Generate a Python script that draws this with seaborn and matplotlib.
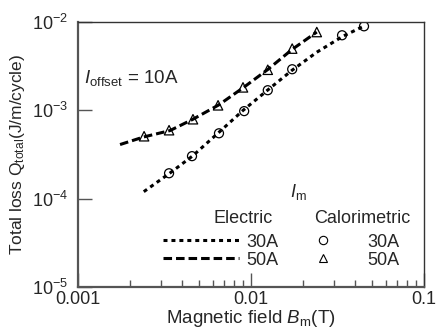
import matplotlib
matplotlib.use("Agg")
import matplotlib.pyplot as plt
import seaborn as sns
import numpy as np
from matplotlib.lines import Line2D
from matplotlib.ticker import LogLocator, NullLocator, NullFormatter, FuncFormatter

# Calorimetric measurements (markers)
b_cal_30 = [0.00336, 0.00456, 0.00653, 0.00913, 0.0125, 0.0173, 0.0336, 0.0450]
q_cal_30 = [1.94e-4, 3.03e-4, 5.5e-4, 9.8e-4, 1.69e-3, 2.92e-3, 7.08e-3, 8.94e-3]
b_cal_50 = [0.00241, 0.00336, 0.00462, 0.00645, 0.00899, 0.0125, 0.0173, 0.0240]
q_cal_50 = [5.09e-4, 5.96e-4, 7.93e-4, 1.14e-3, 1.82e-3, 2.88e-3, 5.0e-3, 7.7e-3]

# Electric measurements (lines)
b_el_30 = [0.0024, 0.0034, 0.0046, 0.0065, 0.009, 0.0125, 0.0173, 0.024, 0.034, 0.045]
q_el_30 = [1.2e-4, 1.95e-4, 3.05e-4, 5.6e-4, 1.0e-3, 1.7e-3, 2.85e-3, 4.55e-3, 6.9e-3, 9.0e-3]
b_el_50 = [0.00175, 0.0024, 0.0034, 0.0046, 0.0065, 0.009, 0.0125, 0.0173, 0.024]
q_el_50 = [4.1e-4, 5.0e-4, 5.9e-4, 7.9e-4, 1.15e-3, 1.8e-3, 2.9e-3, 4.9e-3, 7.7e-3]

x_ticks = [0.001, 0.01, 0.1]
x_tick_labels = ['0.001', '0.01', '0.1']
current_labels = ['30A', '50A']

sns.set_style('white')
plt.rcParams['font.family'] = ['Liberation Sans', 'DejaVu Sans']
plt.rcParams['mathtext.fontset'] = 'custom'
plt.rcParams['mathtext.rm'] = 'Liberation Sans'
plt.rcParams['mathtext.it'] = 'Liberation Sans:italic'
plt.rcParams['mathtext.default'] = 'regular'

FS = 13          # legend / annotation text
FS_TICK = 13
style_30 = (0, (1.3, 1.3))
style_50 = (0, (2.8, 1.3))

fig = plt.figure(figsize=(4.36, 3.32), dpi=100)
ax = fig.add_axes([0.1789, 0.1355, 0.7936, 0.7982])

sns.lineplot(x=b_el_30, y=q_el_30, ax=ax, color='k', lw=2.2, linestyle=style_30, sort=False)
sns.lineplot(x=b_el_50, y=q_el_50, ax=ax, color='k', lw=2.2, linestyle=style_50, sort=False)
sns.scatterplot(x=b_cal_30, y=q_cal_30, ax=ax, marker='o', s=42, facecolor='none',
                edgecolor='k', linewidth=0.9, zorder=1)
sns.scatterplot(x=b_cal_50, y=q_cal_50, ax=ax, marker='^', s=46, facecolor='none',
                edgecolor='k', linewidth=0.9, zorder=1)

ax.set_xscale('log')
ax.set_yscale('log')
ax.set_xlim(0.001, 0.1)
ax.set_ylim(1e-5, 1e-2)
ax.set_xticks(x_ticks)
ax.xaxis.set_major_formatter(FuncFormatter(lambda v, p: x_tick_labels[x_ticks.index(v)] if v in x_ticks else ''))
ax.xaxis.set_minor_locator(LogLocator(base=10, subs=np.arange(2, 10)))
ax.xaxis.set_minor_formatter(NullFormatter())
ax.yaxis.set_minor_locator(NullLocator())

for side in ['left', 'bottom']:
    ax.spines[side].set_color('#555555')
    ax.spines[side].set_linewidth(1.6)
for side in ['top', 'right']:
    ax.spines[side].set_color('#333333')
    ax.spines[side].set_linewidth(1.0)

ax.tick_params(which='major', direction='in', length=10, width=1, color='#555555',
               labelsize=FS_TICK, top=False, right=False, bottom=True, left=True)
ax.tick_params(which='minor', direction='in', length=5, width=1, color='#555555',
               top=False, right=False, bottom=True, left=True)
ax.tick_params(axis='y', pad=7)
ax.tick_params(axis='x', pad=3)

ax.set_xlabel(r'Magnetic field $\it{B}_{\rm m}$(T)', fontsize=13.5, labelpad=0)
ax.set_ylabel(r'Total loss Q$_{\rm total}$(J/m/cycle)', fontsize=12.5, labelpad=4)

ax.text(0.017, 0.79, r'$\it{I}_{\rm offset}$ = 10A', transform=ax.transAxes,
        fontsize=13.5, va='center', ha='left')
ax.text(0.613, 0.36, r'$\it{I}_{\rm m}$', transform=ax.transAxes,
        fontsize=FS, va='center', ha='left')
ax.text(0.5636, 0.26, 'Electric', transform=ax.transAxes,
        fontsize=FS, va='center', ha='right')
ax.text(0.8223, 0.26, 'Calorimetric', transform=ax.transAxes,
        fontsize=FS, va='center', ha='center')

h_el = [Line2D([], [], color='k', lw=2.2, linestyle=style_30),
        Line2D([], [], color='k', lw=2.2, linestyle=style_50)]
leg1 = ax.legend(h_el, current_labels, frameon=False, fontsize=FS,
                 handlelength=4.2, handletextpad=0.4, labelspacing=0.05,
                 borderpad=0, borderaxespad=0,
                 loc='center left', bbox_to_anchor=(0.2457, 0.135))
ax.add_artist(leg1)

h_cal = [Line2D([], [], color='k', marker='o', markersize=6, markerfacecolor='none',
                markeredgewidth=0.8, linestyle='none'),
         Line2D([], [], color='k', marker='^', markersize=6, markerfacecolor='none',
                markeredgewidth=0.8, linestyle='none')]
ax.legend(h_cal, current_labels, frameon=False, fontsize=FS,
          handlelength=2, handletextpad=1.45, labelspacing=0.05,
          borderpad=0, borderaxespad=0,
          loc='center left', bbox_to_anchor=(0.656, 0.135))

fig.savefig('out.png', dpi=100)
